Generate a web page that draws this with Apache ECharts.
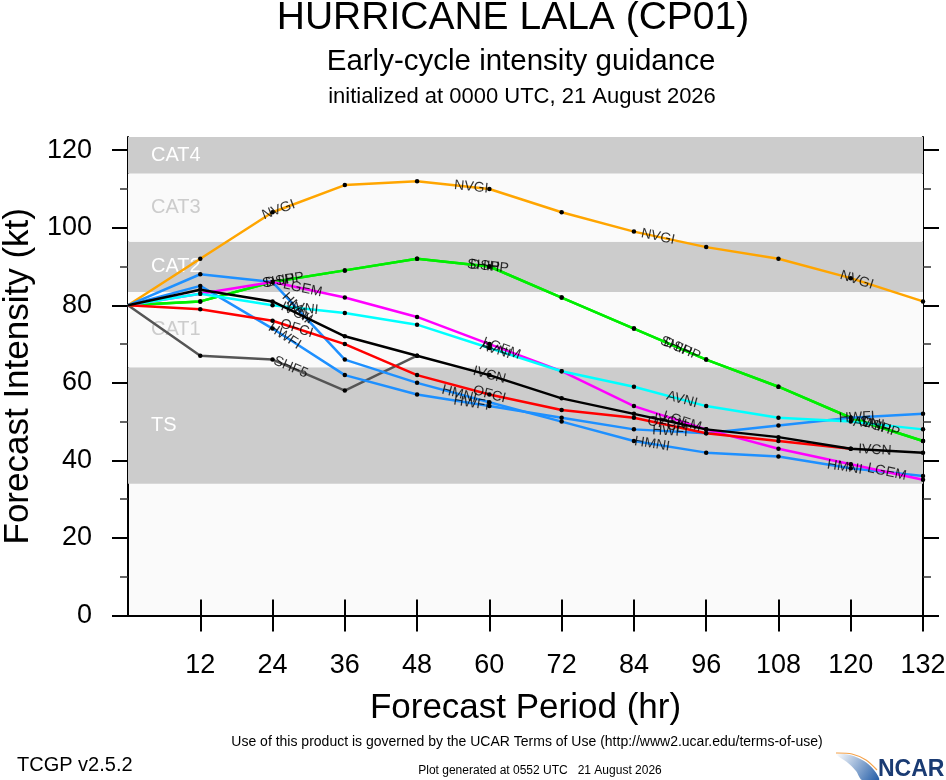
<!DOCTYPE html>
<html lang="en">
<head>
<meta charset="utf-8" />
<title>Hurricane Lala (CP01) early-cycle intensity guidance</title>
<style>
    html, body { margin: 0; padding: 0; background: #ffffff; }
    #chart { width: 946px; height: 780px; }
</style>
</head>
<body>
<div id="chart"></div>
<script src="https://cdn.jsdelivr.net/npm/echarts@6/dist/echarts.min.js"></script>
<script>
    // forecast hours and model intensities (kt)
    const hours = [0, 12, 24, 36, 48, 60, 72, 84, 96, 108, 120, 132];
    const shf5 = [80, 67, 66, 58, 67, null, null, null, null, null, null, null];
    const nvgi = [80, 92, 104, 111, 112, 110, 104, 99, 95, 92, 87, 81];
    const ship = [80, 81, 86, 89, 92, 90, 82, 74, 66, 59, 51, 45];
    const dshp = [80, 81, 86, 89, 92, 90, 82, 74, 66, 59, 51, 45];
    const hmni = [80, 88, 86, 66, 60, 55, 50, 45, 42, 41, 38, 36];
    const hwfi = [80, 85, 74, 62, 57, 54, 51, 48, 47, 49, 51, 52];
    const lgem = [80, 83, 86, 82, 77, 70, 63, 54, 48, 43, 39, 35];
    const avni = [80, 83, 80, 78, 75, 69, 63, 59, 54, 51, 50, 48];
    const ofci = [80, 79, 76, 70, 62, 57, 53, 51, 47, 45, 43, null];
    const ivcn = [80, 84, 81, 72, 67, 62, 56, 52, 48, 46, 43, 42];

    // where the in-line model labels sit (forecast hour)
    const shf5Labels = [27];
    const nvgiLabels = [25, 57, 88, 121];
    const shipLabels = [25, 59, 91, 124];
    const dshpLabels = [26, 60, 92, 125];
    const hmniLabels = [28, 55, 87, 119];
    const hwfiLabels = [26, 57, 90, 121];
    const lgemLabels = [29, 62, 92, 126];
    const avniLabels = [29, 61, 92, 123];
    const ofciLabels = [28, 60, 89];
    const ivcnLabels = [28, 60, 90, 124];

    // intensity category bands
    const bandNames = ['TS', 'CAT1', 'CAT2', 'CAT3', 'CAT4'];
    const bandEdges = [34, 64, 83.4, 96.4, 114, 123.4];

    const xTicks = [12, 24, 36, 48, 60, 72, 84, 96, 108, 120, 132];
    const yTicks = [0, 20, 40, 60, 80, 100, 120];
    const yMinorTicks = [10, 30, 50, 70, 90, 110];

    const models = [
        { name: 'SHF5', data: shf5, labels: shf5Labels, color: '#555555' },
        { name: 'NVGI', data: nvgi, labels: nvgiLabels, color: '#ffa500' },
        { name: 'SHIP', data: ship, labels: shipLabels, color: '#00ee00' },
        { name: 'DSHP', data: dshp, labels: dshpLabels, color: '#00ee00' },
        { name: 'HMNI', data: hmni, labels: hmniLabels, color: '#1e90ff' },
        { name: 'HWFI', data: hwfi, labels: hwfiLabels, color: '#1e90ff' },
        { name: 'LGEM', data: lgem, labels: lgemLabels, color: '#ff00ff' },
        { name: 'AVNI', data: avni, labels: avniLabels, color: '#00ffff' },
        { name: 'OFCI', data: ofci, labels: ofciLabels, color: '#ff0000' },
        { name: 'IVCN', data: ivcn, labels: ivcnLabels, color: '#000000' }
    ];

    const font = 'Liberation Sans, Arial, Helvetica, sans-serif';
    const yMax = bandEdges[bandEdges.length - 1];

    let chart = echarts.init(document.getElementById('chart'), null, { renderer: 'canvas' });

    const bandAreas = bandNames.map((name, i) => {
        const gray = i % 2 === 0;
        return [
            {
                yAxis: bandEdges[i],
                name: name,
                itemStyle: { color: gray ? '#cccccc' : '#fafafa' },
                label: { color: gray ? '#ffffff' : '#cccccc' }
            },
            { yAxis: bandEdges[i + 1] }
        ];
    });

    const lineSeries = models.map((m, k) => {
        const pts = [];
        hours.forEach((h, i) => {
            if (m.data[i] == null) return;
            pts.push(i === 0 ? { value: [h, m.data[i]], symbolSize: 0 } : [h, m.data[i]]);
        });
        const s = {
            name: m.name,
            type: 'line',
            data: pts,
            symbol: 'circle',
            symbolSize: 4.5,
            showSymbol: true,
            itemStyle: { color: '#000000' },
            lineStyle: { color: m.color, width: 2.5 },
            emphasis: { disabled: true },
            animation: false,
            z: 3 + k
        };
        if (k === 0) {
            s.markArea = {
                silent: true,
                z: 1,
                label: {
                    show: true,
                    position: 'insideLeft',
                    distance: 23,
                    fontFamily: font,
                    fontSize: 20
                },
                data: bandAreas
            };
        }
        return s;
    });

    const tickLine = { show: true, lineStyle: { color: '#000', width: 2 } };

    const option = {
        animation: false,
        backgroundColor: '#ffffff',
        grid: {
            left: 128, right: 23, top: 137, bottom: 164.5,
            outerBoundsMode: 'none',
            containLabel: false,
            show: true, backgroundColor: '#fafafa', borderWidth: 0
        },
        xAxis: [
            {
                type: 'value', position: 'bottom', min: 0, max: 132,
                axisLine: tickLine,
                axisTick: { show: true, inside: false, length: 16, customValues: xTicks, lineStyle: { color: '#000', width: 2 } },
                axisLabel: { customValues: xTicks, fontSize: 27, fontFamily: font, color: '#000', margin: 37 },
                splitLine: { show: false },
                name: 'Forecast Period (hr)', nameLocation: 'middle', nameGap: 75,
                nameTextStyle: { fontSize: 35, fontFamily: font, color: '#000' }
            },
            {
                type: 'value', position: 'top', min: 0, max: 132,
                axisLine: tickLine,
                axisTick: { show: true, inside: false, length: 16, customValues: xTicks, lineStyle: { color: '#000', width: 2 } },
                axisLabel: { show: false },
                splitLine: { show: false }
            }
        ],
        yAxis: [
            {
                type: 'value', position: 'left', min: 0, max: yMax,
                axisLine: tickLine,
                axisTick: { show: true, inside: false, length: 16, customValues: yTicks, lineStyle: { color: '#000', width: 2 } },
                axisLabel: { customValues: yTicks, fontSize: 27, fontFamily: font, color: '#000', margin: 36 },
                splitLine: { show: false },
                name: 'Forecast Intensity (kt)', nameLocation: 'middle', nameGap: 79,
                nameTextStyle: { fontSize: 35, fontFamily: font, color: '#000' }
            },
            {
                type: 'value', position: 'left', min: 0, max: yMax,
                axisLine: { show: false },
                axisTick: { show: true, inside: false, length: 8, customValues: yMinorTicks, lineStyle: { color: '#333', width: 1.5 } },
                axisLabel: { show: false },
                splitLine: { show: false }
            },
            {
                type: 'value', position: 'right', min: 0, max: yMax,
                axisLine: tickLine,
                axisTick: { show: true, inside: false, length: 16, customValues: yTicks, lineStyle: { color: '#000', width: 2 } },
                axisLabel: { show: false },
                splitLine: { show: false }
            },
            {
                type: 'value', position: 'right', min: 0, max: yMax,
                axisLine: { show: false },
                axisTick: { show: true, inside: false, length: 8, customValues: yMinorTicks, lineStyle: { color: '#333', width: 1.5 } },
                axisLabel: { show: false },
                splitLine: { show: false }
            }
        ],
        series: lineSeries,
        graphic: [
            { type: 'text', x: 513, y: 18, style: { text: 'HURRICANE LALA (CP01)', font: '39px ' + font, fill: '#000', textAlign: 'center', textVerticalAlign: 'middle' } },
            { type: 'text', x: 521, y: 62, style: { text: 'Early-cycle intensity guidance', font: '29.5px ' + font, fill: '#000', textAlign: 'center', textVerticalAlign: 'middle' } },
            { type: 'text', x: 522, y: 97, style: { text: 'initialized at 0000 UTC, 21 August 2026', font: '22px ' + font, fill: '#000', textAlign: 'center', textVerticalAlign: 'middle' } },
            { type: 'text', x: 527, y: 742, style: { text: 'Use of this product is governed by the UCAR Terms of Use (http://www2.ucar.edu/terms-of-use)', font: '14px ' + font, fill: '#000', textAlign: 'center', textVerticalAlign: 'middle' } },
            { type: 'text', x: 17, y: 765, style: { text: 'TCGP v2.5.2', font: '20px ' + font, fill: '#000', textAlign: 'left', textVerticalAlign: 'middle' } },
            { type: 'text', x: 540, y: 771, style: { text: 'Plot generated at 0552 UTC   21 August 2026', font: '12px ' + font, fill: '#000', textAlign: 'center', textVerticalAlign: 'middle' } },
            // NCAR logo
            {
                type: 'polygon',
                shape: { points: [[836, 754], [850, 755], [864, 761], [874, 770], [879, 780], [862, 780], [856, 771], [848, 763]], smooth: 0.3 },
                style: { fill: new echarts.graphic.LinearGradient(0, 0, 1, 1, [{ offset: 0, color: '#ffffff' }, { offset: 1, color: '#1f5aa6' }]) }
            },
            {
                type: 'polyline',
                shape: { points: [[836, 753], [852, 754], [866, 760], [877, 770]], smooth: 0.3 },
                style: { stroke: '#f4a24a', lineWidth: 1.2, fill: null }
            },
            { type: 'text', x: 878, y: 770, style: { text: 'NCAR', font: 'bold 23px ' + font, fill: '#1a3b73', textAlign: 'left', textVerticalAlign: 'middle' } }
        ]
    };

    chart.setOption(option);

    //----------in-line model labels, turned along their line----------//
    const toPx = (h, v) => chart.convertToPixel({ xAxisIndex: 0, yAxisIndex: 0 }, [h, v]);

    const labelData = [];
    models.forEach((m) => {
        m.labels.forEach((h) => {
            for (let i = 0; i < hours.length - 1; i++) {
                const a = m.data[i], b = m.data[i + 1];
                if (a == null || b == null) continue;
                if (h < hours[i] || h > hours[i + 1]) continue;
                const t = (h - hours[i]) / (hours[i + 1] - hours[i]);
                const p0 = toPx(hours[i], a);
                const p1 = toPx(hours[i + 1], b);
                const deg = Math.atan2(p0[1] - p1[1], p1[0] - p0[0]) * 180 / Math.PI;
                labelData.push({
                    name: m.name,
                    value: [h, a + t * (b - a)],
                    label: { rotate: deg }
                });
                break;
            }
        });
    });

    chart.setOption({
        series: lineSeries.concat([{
            name: 'labels',
            type: 'scatter',
            symbolSize: 0,
            silent: true,
            z: 20,
            data: labelData,
            label: {
                show: true,
                position: 'inside',
                formatter: '{b}',
                fontFamily: font,
                fontSize: 14,
                color: '#000'
            }
        }])
    });
</script>
</body>
</html>
